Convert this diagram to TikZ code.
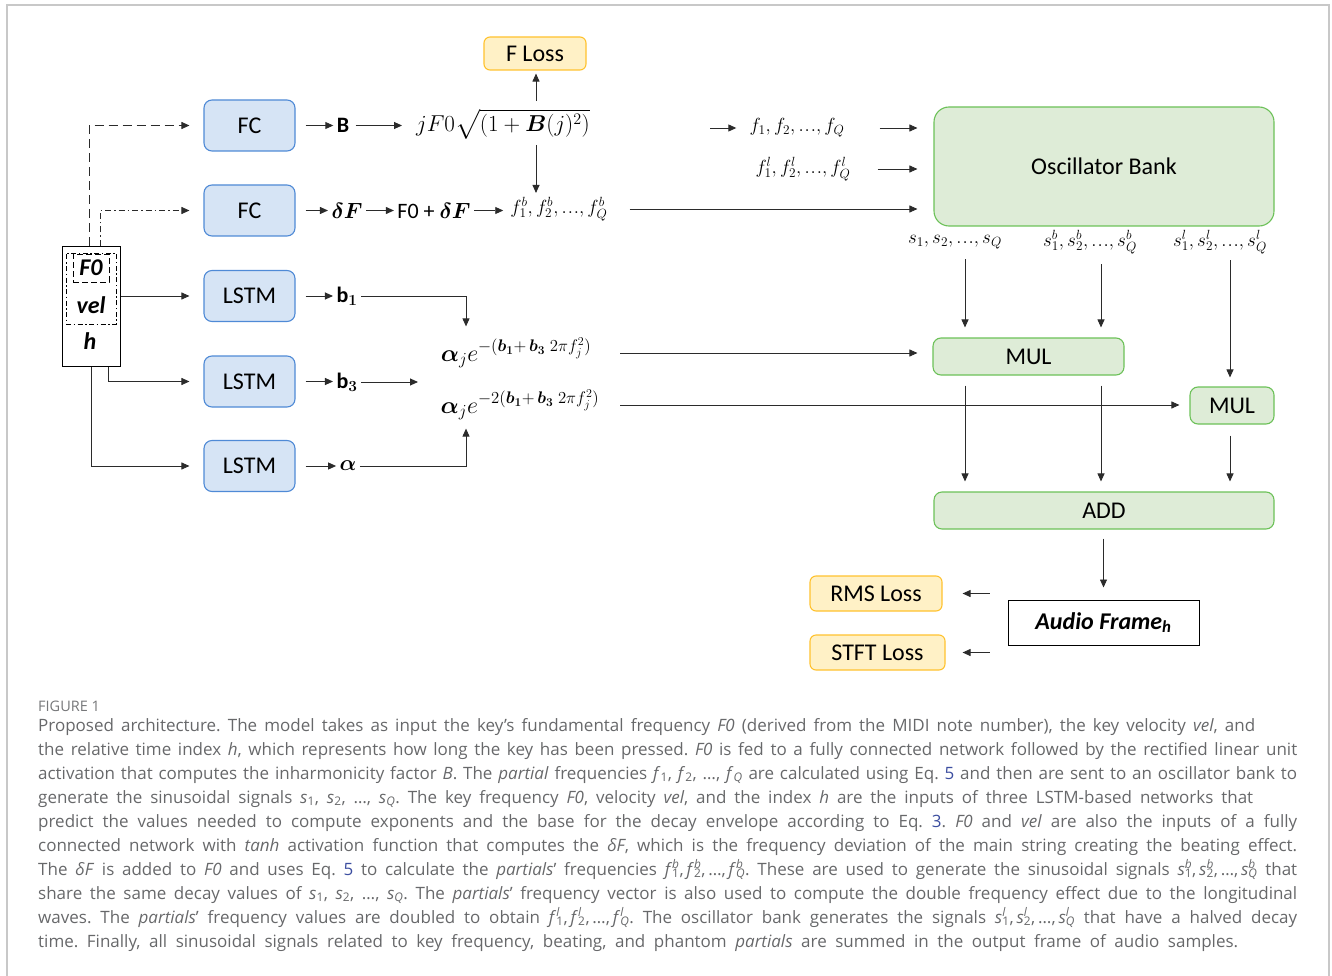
\RequirePackage{fix-cm}
\documentclass[tikz,border=0pt]{standalone}
\usepackage{amsmath}
\usepackage{bm}
\usepackage{fontspec}
\setmainfont{Carlito}
\newfontfamily\capfont{Open Sans}
\usetikzlibrary{arrows.meta}

\definecolor{netfill}{HTML}{D6E4F5}
\definecolor{netline}{HTML}{4F8AD6}
\definecolor{lossfill}{HTML}{FFF1C6}
\definecolor{lossline}{HTML}{FFC22E}
\definecolor{oscfill}{HTML}{DEECD7}
\definecolor{oscline}{HTML}{6CC158}
\definecolor{linegray}{HTML}{2B2B2B}
\definecolor{framegray}{HTML}{C8C8C8}
\definecolor{capgray}{HTML}{67686A}
\definecolor{eqlink}{HTML}{3C4EA0}

\newcommand{\ldts}{{.}\mkern1mu{.}\mkern1mu{.}}
\newcommand{\sps}[3]{\textit{#1}\rlap{\textsuperscript{\textit{#2}}}\textsubscript{#3}}
\newcommand{\sbs}[2]{\textit{#1}\textsubscript{#2}}
\newcommand{\capline}[4]{\node[capstyle] (#1) at (38,#2) {\makebox[#3pt][s]{#4}};}

\begin{document}
\begin{tikzpicture}[
  x=1pt,y=-1pt,
  every node/.style={font=\fontsize{22}{26}\selectfont},
  big/.style={font=\fontsize{24}{28}\selectfont},
  lab/.style={font=\fontsize{19}{22}\selectfont,inner sep=0pt},
  net/.style={big,draw=netline,fill=netfill,line width=1.1pt,rounded corners=8pt,minimum width=91pt,minimum height=51pt},
  loss/.style={big,draw=lossline,fill=lossfill,line width=1.1pt,rounded corners=6pt,minimum height=33pt},
  osc/.style={big,draw=oscline,fill=oscfill,line width=1.1pt,rounded corners=8pt,minimum height=37pt},
  arr/.style={draw=linegray,line width=0.9pt,-{Triangle[length=8pt,width=7pt]}},
  capstyle/.style={anchor=base west,inner sep=0pt,text=capgray,font=\capfont\fontsize{17}{24}\selectfont\frenchspacing}
]
\useasboundingbox (0,0) rectangle (1332,976);
\draw[framegray,line width=1.2pt] (7,976) -- (7,5) -- (1329,5) -- (1329,976);

% inputs
\node[draw,line width=1pt,minimum width=58pt,minimum height=120pt] (inp) at (91,306.5) {};
\node[draw,line width=0.8pt,dash pattern=on 5pt off 2.5pt on 1.5pt off 2.5pt,minimum width=50pt,minimum height=71pt] (fv) at (91,288.5) {};
\node[big,draw,line width=0.8pt,dash pattern=on 6pt off 3pt,minimum width=36pt,minimum height=28pt,inner sep=0pt] (f0) at (91,268) {\textbf{\textit{F0}}};
\node[big] (vel) at (91,305) {\textbf{\textit{vel}}};
\node[big] (hh) at (90,341) {\textbf{\textit{h}}};

\node[net] (fc1) at (249.5,125.5) {FC};
\node[net] (fc2) at (249.5,210.5) {FC};
\node[net] (ls1) at (249.5,296) {LSTM};
\node[net] (ls2) at (249.5,381.5) {LSTM};
\node[net] (ls3) at (249.5,466) {LSTM};

\draw[arr,dash pattern=on 9pt off 5pt,shorten >=14pt] ([xshift=-2pt]inp.north) |- (fc1.west);
\draw[arr,dash pattern=on 6pt off 3pt on 1.5pt off 3pt,shorten >=14pt] ([xshift=9pt]inp.north) |- (fc2.west);
\draw[arr,shorten >=14pt] (inp.east |- ls1.west) -- (ls1.west);
\draw[arr,shorten >=14pt] ([xshift=17pt]inp.south) |- (ls2.west);
\draw[arr,shorten >=14pt] (inp.south) |- (ls3.west);

% network outputs
\node (B) at (343,125.5) {\textbf{B}};
\node (dF) at (347,210.5) {$\bm{\delta F}$};
\node (b1) at (347,296) {\textbf{b}$_{\bm{1}}$};
\node (b3) at (347,382) {\textbf{b}$_{\bm{3}}$};
\node (al) at (348,466) {$\bm{\alpha}$};

\draw[arr,shorten <=10pt] (fc1.east) -- (B.west);
\draw[arr,shorten <=10pt] (fc2.east) -- (dF.west);
\draw[arr,shorten <=10pt] (ls1.east) -- (b1.west |- ls1.east);
\draw[arr,shorten <=10pt] (ls2.east) -- (b3.west |- ls2.east);
\draw[arr,shorten <=10pt] (ls3.east) -- (al.west);

% frequencies
\node[font=\fontsize{23}{27}\selectfont] (sq) at (503,124) {$jF0\sqrt{(1+\bm{B}(j)^2)}$};
\node[loss,minimum width=102pt] (fl) at (535,53.5) {F Loss};
\node (fpd) at (434,210.5) {F0 + $\bm{\delta F}$};
\node[lab] (fb) at (559,209) {$f_1^b,f_2^b,\ldts,f_Q^b$};
\coordinate (kf) at (536,0);
\coordinate (kb) at (402,0);

\draw[arr,shorten <=3pt] (B.east) -- (B.east -| kb);
\draw[arr,shorten <=4pt,shorten >=3pt] (sq.north -| kf) -- (fl.south -| kf);
\draw[arr,shorten <=2pt,shorten >=4pt] (sq.south -| kf) -- (fb.north -| kf);
\draw[arr] (dF) -- (fpd);
\draw[arr,shorten >=7pt] (fpd) -- (fpd -| fb.west);

\node[lab] (fq) at (797,128) {$f_1,f_2,\ldts,f_Q$};
\node[lab] (fql) at (803,169) {$f_1^l,f_2^l,\ldts,f_Q^l$};
\coordinate (fsrc) at (710,128);

% oscillator bank and mixing
\node[osc,minimum width=340pt,minimum height=119pt,rounded corners=15pt] (osc) at (1104,166.5) {Oscillator Bank};
\draw[arr,shorten >=13pt] (fsrc) -- (fq.west);
\draw[arr,shorten <=35pt,shorten >=16pt] (fq.east) -- (osc.west |- fq.east);
\draw[arr,shorten <=27pt,shorten >=16pt] (fql.east) -- (osc.west |- fql.east);
\draw[arr,shorten <=22pt,shorten >=16pt] (fb.east) -- (osc.west |- fb.east);

\node[lab] (sa) at (955,242) {$s_1,s_2,\ldts,s_Q$};
\node[lab] (sb) at (1090,242) {$s_1^b,s_2^b,\ldts,s_Q^b$};
\node[lab] (sc) at (1220,242) {$s_1^l,s_2^l,\ldts,s_Q^l$};

\node[osc,minimum width=191pt] (mul1) at (1028.5,356.5) {MUL};
\node[osc,minimum width=84pt] (mul2) at (1232,405.5) {MUL};
\node[osc,minimum width=340pt] (add) at (1104,510.5) {ADD};

\coordinate (k1) at (965,0);
\coordinate (k2) at (1101,0);
\coordinate (k3) at (1230,0);
\draw[arr,shorten <=10pt,shorten >=10pt] (sa.south -| k1) -- (mul1.north -| k1);
\draw[arr,shorten <=10pt,shorten >=10pt] (sb.south -| k2) -- (mul1.north -| k2);
\draw[arr,shorten <=6pt,shorten >=9pt] (sc.south -| k3) -- (mul2.north -| k3);
\draw[arr,shorten <=10pt,shorten >=10pt] (mul1.south -| k1) -- (add.north -| k1);
\draw[arr,shorten <=10pt,shorten >=10pt] (mul1.south -| k2) -- (add.north -| k2);
\draw[arr,shorten <=11pt,shorten >=10pt] (mul2.south -| k3) -- (add.north -| k3);

% decay envelopes
\node[big] (d1) at (516,353) {$\bm{\alpha}_j e^{-(\bm{b}_{\bm{1}}+\,\bm{b}_{\bm{3}}\;2\pi f_j^2)}$};
\node[big] (d2) at (520,405) {$\bm{\alpha}_j e^{-2(\bm{b}_{\bm{1}}+\,\bm{b}_{\bm{3}}\;2\pi f_j^2)}$};
\coordinate (kd) at (466,0);
\coordinate (ke) at (418,0);
\coordinate (ks) at (620,0);

\draw[arr,shorten >=8pt] (b1.east) -| (d1.north -| kd);
\draw[arr] (b3.east) -- (b3.east -| ke);
\draw[arr,shorten >=5pt] (al.east) -| (d2.south -| kd);
\draw[arr,shorten >=15pt] (d1.east -| ks) -- (mul1.west |- d1.east);
\draw[arr,shorten >=10pt] (d2.east -| ks) -- (mul2.west |- d2.east);

% output and losses
\node[big,draw,line width=1pt,minimum width=191pt,minimum height=45pt] (af) at (1103.5,622.5) {\textbf{\textit{Audio Frame}}$_{\textbf{\textit{h}}}$};
\node[loss,minimum width=132pt,minimum height=35pt] (rms) at (876,593.5) {RMS Loss};
\node[loss,minimum width=135pt,minimum height=35pt] (stft) at (877.5,652.5) {STFT Loss};

\draw[arr,shorten <=9pt,shorten >=12pt] (add.south -| af.north) -- (af.north);
\draw[arr,shorten <=18pt,shorten >=20pt] (af.west |- rms.east) -- (rms.east);
\draw[arr,shorten <=18pt,shorten >=17pt] (af.west |- stft.east) -- (stft.east);

% caption
\node[capstyle,font=\capfont\fontsize{14.5}{16}\selectfont,text=capgray!90] (fig) at (38,711) {FIGURE 1};
\capline{c1}{731}{1217}{Proposed architecture. The model takes as input the key’s fundamental frequency \textit{F0} (derived from the MIDI note number), the key velocity \textit{vel}, and}
\capline{c2}{755}{1259}{the relative time index \textit{h}, which represents how long the key has been pressed. \textit{F0} is fed to a fully connected network followed by the rectified linear unit}
\capline{c3}{779}{1259}{activation that computes the inharmonicity factor \textit{B}. The \textit{partial} frequencies \sbs{f}{1}, \sbs{f}{2}, \dots, \sbs{f}{\textit{Q}} are calculated using Eq. {\color{eqlink}5} and then are sent to an oscillator bank to}
\capline{c4}{803}{1215}{generate the sinusoidal signals \sbs{s}{1}, \sbs{s}{2}, \dots, \sbs{s}{\textit{Q}}. The key frequency \textit{F0}, velocity \textit{vel}, and the index \textit{h} are the inputs of three LSTM-based networks that}
\capline{c5}{827}{1259}{predict the values needed to compute exponents and the base for the decay envelope according to Eq. {\color{eqlink}3}. \textit{F0} and \textit{vel} are also the inputs of a fully}
\capline{c6}{851}{1259}{connected network with \textit{tanh} activation function that computes the \textit{δF}, which is the frequency deviation of the main string creating the beating effect.}
\capline{c7}{875}{1259}{The \textit{δF} is added to \textit{F0} and uses Eq. {\color{eqlink}5} to calculate the \textit{partials}’ frequencies \sps{f}{b}{1},\,\sps{f}{b}{2},\,\dots,\,\sps{f}{b}{\textit{Q}}. These are used to generate the sinusoidal signals \sps{s}{b}{1},\,\sps{s}{b}{2},\,\dots,\,\sps{s}{b}{\textit{Q}} that}
\capline{c8}{899}{1259}{share the same decay values of \sbs{s}{1}, \sbs{s}{2}, \dots, \sbs{s}{\textit{Q}}. The \textit{partials}’ frequency vector is also used to compute the double frequency effect due to the longitudinal}
\capline{c9}{923}{1259}{waves. The \textit{partials}’ frequency values are doubled to obtain \sps{f}{l}{1},\,\sps{f}{l}{2},\,\dots,\,\sps{f}{l}{\textit{Q}}. The oscillator bank generates the signals \sps{s}{l}{1},\,\sps{s}{l}{2},\,\dots,\,\sps{s}{l}{\textit{Q}} that have a halved decay}
\capline{c10}{947}{1200}{time. Finally, all sinusoidal signals related to key frequency, beating, and phantom \textit{partials} are summed in the output frame of audio samples.}
\end{tikzpicture}
\end{document}
